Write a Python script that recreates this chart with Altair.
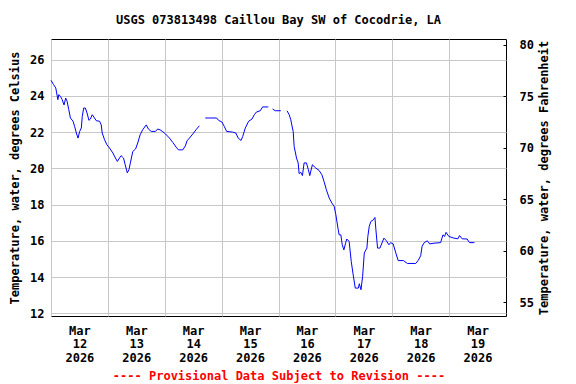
import altair as alt
import pandas as pd

# hours since 2026-03-12 00:00 and water temperature (deg C), split where the record has gaps
seg0_h = [0, 1.1, 2.0, 2.4, 2.9, 3.3, 4.0, 4.7, 5.5, 6.2, 6.8, 7.5, 8.2, 9.3, 10.0, 10.7, 11.4, 12.1, 12.8,
          13.2, 13.8, 14.5, 15.2, 16.0, 16.6, 17.4, 18.1, 19.1, 20.5, 21.2, 21.6, 22.6, 23.6, 24.7, 26.1,
          27.2, 28.0, 28.9, 29.6, 30.6, 31.3, 32.2, 32.9, 33.5, 34.5, 35.7, 36.6, 37.6, 38.7, 40.2, 41.1,
          42.3, 44.1, 45.0, 46.0, 47.2, 48.3, 50.0, 51.4, 52.8, 53.8, 55.6, 56.7, 57.4, 58.4, 59.8, 61.2, 62.6]
seg0_c = [24.86, 24.62, 24.44, 24.16, 23.79, 24.07, 23.97, 23.80, 23.50, 23.88, 23.70, 23.24, 22.78, 22.60,
          22.30, 21.95, 21.67, 22.04, 22.23, 22.87, 23.33, 23.33, 23.06, 22.65, 22.72, 22.96, 22.83, 22.63,
          22.60, 22.40, 21.95, 21.58, 21.30, 21.12, 20.85, 20.57, 20.38, 20.57, 20.70, 20.57, 20.20, 19.75,
          19.93, 20.30, 20.93, 21.07, 21.40, 21.85, 22.13, 22.40, 22.17, 22.04, 22.04, 22.17, 22.13, 22.02,
          21.90, 21.67, 21.43, 21.17, 21.02, 21.02, 21.24, 21.52, 21.67, 21.89, 22.13, 22.35]

seg1_h = [65.1, 66.8, 69.9, 70.7, 72.1, 73.1, 74.1, 76.6, 78.0, 79.0, 80.2, 80.9, 82.0, 83.4, 84.8, 85.8,
          86.7, 88.3, 89.3, 91.7]
seg1_c = [22.78, 22.78, 22.78, 22.65, 22.56, 22.32, 22.04, 22.00, 21.95, 21.67, 21.54, 21.76, 22.23, 22.60,
          22.72, 22.96, 23.11, 23.18, 23.39, 23.39]

seg2_h = [93.5, 94.6, 97.0]
seg2_c = [23.28, 23.18, 23.18]

seg3_h = [99.6, 100.5, 101.2, 101.6, 102.2, 102.6, 103.6, 104.3, 104.7, 105.4, 106.1, 106.8, 107.8, 108.6,
          109.2, 110.3, 111.7, 113.1, 114.3, 115.2, 116.2, 117.4, 118.5, 119.5, 120.2, 121.2, 121.6, 122.3,
          122.9, 123.6, 124.3, 124.8, 125.8, 126.7, 127.4, 128.4, 129.7, 130.1, 130.8, 131.5, 132.2, 133.3,
          133.7, 134.3, 135.0, 136.0, 136.7, 137.1, 137.8, 138.8, 140.5, 141.4, 142.6, 143.3, 144.4, 145.5,
          146.5, 148.7, 150.4, 153.9, 155.0, 156.0, 156.6, 157.5, 158.8, 159.8, 161.6, 164.4, 165.4, 166.1,
          166.7, 167.9, 170.0, 171.7, 172.4, 173.5, 175.6, 176.6, 178.7]
seg3_c = [23.18, 22.96, 22.68, 22.40, 22.04, 21.21, 20.57, 20.30, 19.71, 19.78, 19.60, 20.30, 20.30, 19.93,
          19.60, 20.20, 20.02, 19.89, 19.65, 19.28, 18.82, 18.36, 18.09, 17.90, 17.44, 16.61, 16.33, 16.33,
          15.78, 15.50, 15.87, 16.10, 15.97, 14.86, 14.22, 13.39, 13.39, 13.63, 13.30, 14.04, 15.33, 15.60,
          16.24, 16.80, 17.07, 17.16, 17.29, 16.61, 15.60, 15.60, 16.15, 16.02, 15.78, 15.90, 15.83, 15.33,
          14.91, 14.91, 14.75, 14.75, 14.93, 15.18, 15.70, 15.90, 16.00, 15.83, 15.87, 15.90, 16.33, 16.24,
          16.47, 16.24, 16.15, 16.11, 16.29, 16.11, 16.10, 15.90, 15.90]

segments = [(seg0_h, seg0_c), (seg1_h, seg1_c), (seg2_h, seg2_c), (seg3_h, seg3_c)]

celsius_ticks = [12, 14, 16, 18, 20, 22, 24, 26]
fahrenheit_ticks = [55, 60, 65, 70, 75, 80]
day_dates = [12, 13, 14, 15, 16, 17, 18, 19]

title_text = "USGS 073813498 Caillou Bay SW of Cocodrie, LA"
left_title = "Temperature, water, degrees Celsius"
right_title = "Temperature, water, degrees Fahrenheit"
footer_text = "---- Provisional Data Subject to Revision ----"

start = pd.Timestamp("2026-03-12T00:00:00")
rows = []
for i, (hs, cs) in enumerate(segments):
    for h, c in zip(hs, cs):
        t = start + pd.Timedelta(hours=h)
        rows.append({"time": t.strftime("%Y-%m-%dT%H:%M:%S"), "c": c, "seg": i})
df = pd.DataFrame(rows)

FONT = "DejaVu Sans Mono"

xscale = alt.Scale(domain=[alt.DateTime(year=2026, month=3, date=12, hours=0),
                           alt.DateTime(year=2026, month=3, date=20, hours=0)])
xaxis = alt.Axis(
    values=[alt.DateTime(year=2026, month=3, date=d, hours=0) for d in day_dates],
    labelExpr="[timeFormat(datum.value, '%b'), timeFormat(datum.value, '%d'), timeFormat(datum.value, '%Y')]",
    labelOffset=28.4, labelAlign="center", labelBaseline="top", labelLineHeight=13.5,
    labelPadding=9, labelOverlap=False, labelFlush=False, labelBound=False,
    ticks=False, tickSize=0, domain=False, grid=True, gridColor="#c8c8c8",
    title=footer_text, titleColor="#ff0000", titlePadding=7,
)

cscale = alt.Scale(domain=[11.85, 27.14], nice=False, zero=False)
caxis = alt.Axis(
    orient="left", values=celsius_ticks, grid=True, gridColor="#c8c8c8",
    ticks=False, tickSize=0, domain=False, labelPadding=7,
    title=left_title, titlePadding=8,
)

fscale = alt.Scale(domain=[53.65, 80.57], nice=False, zero=False)
faxis = alt.Axis(
    orient="right", values=fahrenheit_ticks, grid=False,
    ticks=True, tickSize=3, tickColor="#000000", offset=-3, domain=False,
    labelPadding=13, title=right_title, titlePadding=17, titleAngle=270,
)

base = alt.Chart(df)
line = base.mark_line(color="#0000ff", strokeWidth=1).encode(
    x=alt.X("time:T", scale=xscale, axis=xaxis),
    y=alt.Y("c:Q", scale=cscale, axis=caxis),
    detail="seg:N",
)
fline = base.transform_calculate(f="datum.c * 1.8 + 32").mark_line(opacity=0).encode(
    x=alt.X("time:T", scale=xscale, axis=xaxis),
    y=alt.Y("f:Q", scale=fscale, axis=faxis),
    detail="seg:N",
)

chart = alt.layer(line, fline).resolve_scale(y="independent").properties(
    width=455, height=277,
    autosize=alt.AutoSizeParams(type="none"),
    padding={"left": 43, "top": 31, "right": 62, "bottom": 68},
    title=alt.TitleParams(text=title_text, font=FONT, fontSize=12, fontWeight="bold",
                          color="#000000", anchor="middle", baseline="alphabetic",
                          frame="group", offset=3),
).configure_view(stroke="#000000", strokeWidth=1).configure_axis(
    labelFont=FONT, labelFontSize=12, labelFontWeight="bold", labelColor="#000000",
    titleFont=FONT, titleFontSize=12, titleFontWeight="bold", titleColor="#000000",
)

chart.save("out.html", embed_options={"renderer": "svg", "actions": False})
